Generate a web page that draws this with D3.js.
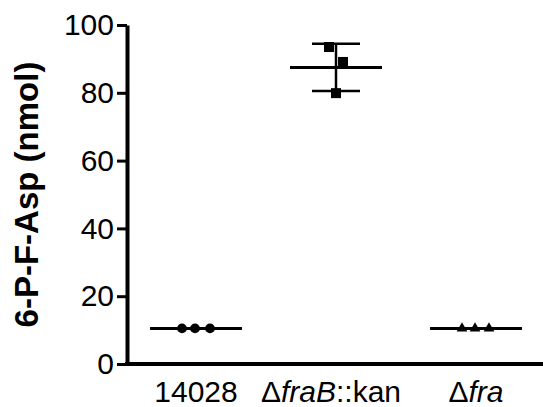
<!DOCTYPE html>
<meta charset="utf-8">
<script src="https://d3js.org/d3.v7.min.js"></script>
<style>
  body { margin: 0; background: #fff; }
  text { font-family: "Liberation Sans", Arial, sans-serif; }
</style>
<div id="chart"></div>
<script>
// groups and replicate values (nmol)
var groups = ["14028", "fraB", "fra"];
var vals14028 = [10.5, 10.5, 10.5];
var valsFraB = [93.5, 89.1, 79.9];
var valsFra = [10.5, 10.5, 10.5];
var yTicks = [0, 20, 40, 60, 80, 100];

var width = 543, height = 407;
var margin = {top: 25, right: 0, bottom: 43, left: 127};

var svg = d3.select("#chart").append("svg")
  .attr("width", width)
  .attr("height", height);

var y = d3.scaleLinear().domain([0, 100]).range([height - margin.bottom, margin.top]);
var x = d3.scaleBand().domain(groups).range([margin.left - 1, 546]).padding(0);

var series = [
  {key: "14028", vals: vals14028, shape: d3.symbolCircle, size: 75, jitter: [-14, -1, 14]},
  {key: "fraB", vals: valsFraB, shape: d3.symbolSquare, size: 100, jitter: [-7, 7, 0]},
  {key: "fra", vals: valsFra, shape: d3.symbolTriangle, size: 50, jitter: [-14, -1, 13]}
];

// axes
var yAxis = svg.append("g")
  .attr("transform", "translate(" + margin.left + ",0)")
  .call(d3.axisLeft(y).tickValues(yTicks).tickSize(10).tickSizeOuter(0).tickPadding(3));
yAxis.select(".domain").attr("stroke-width", 4).attr("stroke", "#000");
yAxis.selectAll(".tick line").attr("stroke-width", 3);
yAxis.selectAll(".tick text").attr("font-size", 30).attr("font-family", "Liberation Sans, Arial, sans-serif").attr("fill", "#000");

svg.append("line")
  .attr("x1", margin.left - 2).attr("x2", width)
  .attr("y1", y(0)).attr("y2", y(0))
  .attr("stroke", "#000").attr("stroke-width", 4);

// x labels
var xl = svg.append("g").attr("font-size", 30).attr("text-anchor", "middle");
xl.append("text").attr("x", x("14028") + x.bandwidth() / 2).attr("y", 402).text("14028");
var t2 = xl.append("text").attr("x", x("fraB") + x.bandwidth() / 2 - 5).attr("y", 402);
t2.append("tspan").text("\u0394");
t2.append("tspan").attr("font-style", "italic").text("fraB");
t2.append("tspan").text("::kan");
var t3 = xl.append("text").attr("x", x("fra") + x.bandwidth() / 2).attr("y", 402);
t3.append("tspan").text("\u0394");
t3.append("tspan").attr("font-style", "italic").text("fra");

// y title
svg.append("text")
  .attr("transform", "translate(38," + ((y(0) + y(100)) / 2) + ") rotate(-90)")
  .attr("text-anchor", "middle")
  .attr("font-size", 33)
  .attr("font-weight", "bold")
  .text("6-P-F-Asp (nmol)");

// marks
series.forEach(function(s) {
  var cx = x(s.key) + x.bandwidth() / 2;
  var m = d3.mean(s.vals), sd = d3.deviation(s.vals);
  var g = svg.append("g");
  if (sd > 0.5) {
    g.append("line").attr("x1", cx).attr("x2", cx).attr("y1", y(m - sd)).attr("y2", y(m + sd))
      .attr("stroke", "#000").attr("stroke-width", 2.5);
    [m - sd, m + sd].forEach(function(v) {
      g.append("line").attr("x1", cx - 24).attr("x2", cx + 24).attr("y1", y(v)).attr("y2", y(v))
        .attr("stroke", "#000").attr("stroke-width", 2.5);
    });
  }
  g.append("line").attr("x1", cx - 46).attr("x2", cx + 46).attr("y1", y(m)).attr("y2", y(m))
    .attr("stroke", "#000").attr("stroke-width", 3);
  g.selectAll("path").data(s.vals).enter().append("path")
    .attr("d", d3.symbol().type(s.shape).size(s.size))
    .attr("transform", function(d, i) { return "translate(" + (cx + s.jitter[i]) + "," + y(d) + ")"; })
    .attr("fill", "#000");
});
</script>
